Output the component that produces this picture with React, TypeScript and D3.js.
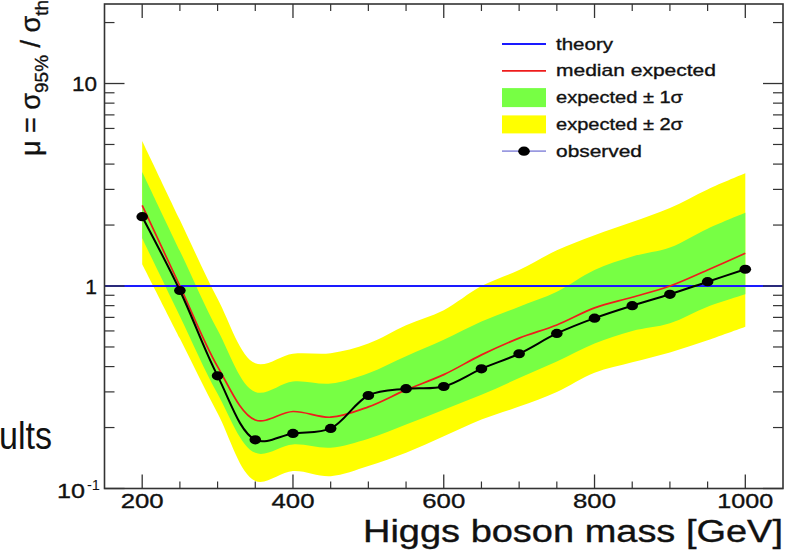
import React from 'react';
import * as d3 from 'd3';

// Higgs boson mass points (GeV)
const masses = [200, 250, 300, 350, 400, 450, 500, 550, 600, 650, 700, 750, 800, 850, 900, 950, 1000];
// Observed 95% CL limit on mu = sigma95 / sigma_th
const observed = [2.2, 0.95, 0.36, 0.174, 0.187, 0.198, 0.288, 0.311, 0.319, 0.39, 0.463, 0.583, 0.694, 0.8, 0.91, 1.05, 1.21];
// Median expected limit
const expectedMedian = [2.5, 1.0, 0.4, 0.218, 0.24, 0.225, 0.253, 0.307, 0.365, 0.457, 0.553, 0.642, 0.78, 0.88, 1.0, 1.2, 1.45];
// Expected ±1 sigma band
const expected1Low = [1.72, 0.71, 0.294, 0.15, 0.165, 0.159, 0.176, 0.207, 0.245, 0.29, 0.351, 0.424, 0.52, 0.6, 0.655, 0.79, 0.91];
const expected1High = [3.66, 1.49, 0.607, 0.3, 0.338, 0.33, 0.371, 0.45, 0.542, 0.667, 0.791, 0.937, 1.2, 1.4, 1.55, 1.92, 2.3];
// Expected ±2 sigma band
const expected2Low = [1.28, 0.55, 0.235, 0.109, 0.122, 0.115, 0.129, 0.15, 0.181, 0.219, 0.254, 0.3, 0.373, 0.42, 0.47, 0.54, 0.63];
const expected2High = [5.2, 2.12, 0.865, 0.415, 0.463, 0.466, 0.52, 0.64, 0.76, 1.0, 1.2, 1.5, 1.78, 2.07, 2.43, 3.0, 3.6];
// Theory reference
const theoryRatio = 1;

const xMajorTicks = [200, 400, 600, 800, 1000];
const yMajorTicks = [0.1, 1, 10];
const legendLabels = ['theory', 'median expected', 'expected \u00b1 1\u03c3', 'expected \u00b1 2\u03c3', 'observed'];

const FONT = '"Liberation Sans", Arial, Helvetica, sans-serif';
const TEXT = '#111';
const FRAME = '#333';

export default function App() {
  const W = 792;
  const H = 550;
  const left = 104.5;
  const right = 783;
  const top = 4;
  const bottom = 488.5;

  const x = d3.scaleLinear().domain([150, 1050]).range([left, right]);
  const y = d3.scaleLog().domain([0.1, 24.7]).range([bottom, top]);

  const rows = masses.map((m, i) => ({
    m,
    obs: observed[i],
    med: expectedMedian[i],
    l1: expected1Low[i],
    h1: expected1High[i],
    l2: expected2Low[i],
    h2: expected2High[i],
  }));

  const curve = d3.curveCatmullRom.alpha(0.5);
  const band2 = d3.area<any>().x(d => x(d.m)).y0(d => y(d.l2)).y1(d => y(d.h2)).curve(curve);
  const band1 = d3.area<any>().x(d => x(d.m)).y0(d => y(d.l1)).y1(d => y(d.h1)).curve(curve);
  const medLine = d3.line<any>().x(d => x(d.m)).y(d => y(d.med)).curve(curve);
  const obsLine = d3.line<any>().x(d => x(d.m)).y(d => y(d.obs)).curve(curve);

  const xMinorTicks = d3.range(200, 1001, 50).filter(v => !xMajorTicks.includes(v));
  const yMinorTicks: number[] = [];
  [0.1, 1, 10].forEach(dec => {
    for (let k = 2; k <= 9; k++) {
      const v = k * dec;
      if (v < 24.7) yMinorTicks.push(v);
    }
  });

  // legend geometry
  const lgX0 = 502;
  const lgX1 = 546;
  const lgTextX = 556;
  const lgRow0 = 44;
  const lgStep = 26.8;
  const lgWidths = [57, 160, 127, 127, 86];

  const bold = { stroke: TEXT, strokeWidth: 0.35 };

  return (
    <svg width={W} height={H} style={{ position: 'absolute', left: 0, top: 0, background: '#fff' }}
      fontFamily={FONT}>
      <rect x={0} y={0} width={W} height={H} fill="#fff" />

      {/* slide title fragment */}
      <text x={-1} y={449} fontSize={38} fill="#111" textLength={53} lengthAdjust="spacingAndGlyphs">ults</text>

      {/* expected bands */}
      <path d={band2(rows) || ''} fill="#ffff00" />
      <path d={band1(rows) || ''} fill="#77ff44" />

      {/* theory */}
      <line x1={left} x2={right} y1={y(theoryRatio)} y2={y(theoryRatio)} stroke="#1a1aff" strokeWidth={1.8} />

      {/* median expected */}
      <path d={medLine(rows) || ''} fill="none" stroke="#ee1c1c" strokeWidth={1.7} />

      {/* observed */}
      <path d={obsLine(rows) || ''} fill="none" stroke="#000" strokeWidth={2} />
      {rows.map(d => (
        <ellipse key={d.m} cx={x(d.m)} cy={y(d.obs)} rx={5.8} ry={4.6} fill="#000" />
      ))}

      {/* frame */}
      <rect x={left} y={top} width={right - left} height={bottom - top} fill="none" stroke={FRAME} strokeWidth={1.6} />

      {/* x ticks, bottom and top */}
      {xMajorTicks.map(v => (
        <g key={'xM' + v}>
          <line x1={x(v)} x2={x(v)} y1={bottom} y2={bottom - 14} stroke={FRAME} strokeWidth={1.3} />
          <line x1={x(v)} x2={x(v)} y1={top} y2={top + 14} stroke={FRAME} strokeWidth={1.3} />
          <text x={x(v)} y={508} fontSize={21} fill={TEXT} {...bold} textAnchor="middle"
            textLength={v >= 1000 ? 56 : 43} lengthAdjust="spacingAndGlyphs">{v}</text>
        </g>
      ))}
      {xMinorTicks.map(v => (
        <g key={'xm' + v}>
          <line x1={x(v)} x2={x(v)} y1={bottom} y2={bottom - 7} stroke={FRAME} strokeWidth={1.2} />
          <line x1={x(v)} x2={x(v)} y1={top} y2={top + 7} stroke={FRAME} strokeWidth={1.2} />
        </g>
      ))}

      {/* y ticks, left and right */}
      {yMajorTicks.map(v => (
        <g key={'yM' + v}>
          <line x1={left} x2={left + 20} y1={y(v)} y2={y(v)} stroke={FRAME} strokeWidth={1.3} />
          <line x1={right} x2={right - 20} y1={y(v)} y2={y(v)} stroke={FRAME} strokeWidth={1.3} />
        </g>
      ))}
      {yMinorTicks.map(v => (
        <g key={'ym' + v}>
          <line x1={left} x2={left + 10} y1={y(v)} y2={y(v)} stroke={FRAME} strokeWidth={1.2} />
          <line x1={right} x2={right - 10} y1={y(v)} y2={y(v)} stroke={FRAME} strokeWidth={1.2} />
        </g>
      ))}
      {yMajorTicks.map(v => {
        const yy = y(v);
        if (v >= 10) {
          return <text key={'yl' + v} x={97} y={yy + 7.5} fontSize={21} fill={TEXT} {...bold} textAnchor="end"
            textLength={25} lengthAdjust="spacingAndGlyphs">{String(v)}</text>;
        }
        if (v >= 1) {
          return <text key={'yl' + v} x={97} y={yy + 7.5} fontSize={21} fill={TEXT} {...bold} textAnchor="end">{String(v)}</text>;
        }
        const exp = Math.round(Math.log10(v));
        return (
          <g key={'yl' + v}>
            <text x={85} y={yy + 9.5} fontSize={21} fill={TEXT} {...bold} textAnchor="end"
              textLength={28} lengthAdjust="spacingAndGlyphs">10</text>
            <text x={87} y={yy + 1.5} fontSize={14} fill={TEXT} textAnchor="start"
              textLength={13} lengthAdjust="spacingAndGlyphs">{String(exp)}</text>
          </g>
        );
      })}

      {/* axis titles */}
      <text x={783} y={542} fontSize={31} fill={TEXT} {...bold} textAnchor="end"
        textLength={420} lengthAdjust="spacingAndGlyphs">Higgs boson mass [GeV]</text>
      <text transform="translate(40,156) rotate(-90)" fontSize={27} fill={TEXT} {...bold}>
        <tspan>{'\u03bc = \u03c3'}</tspan>
        <tspan fontSize={19} dy={8}>95%</tspan>
        <tspan dy={-8}>{' / \u03c3'}</tspan>
        <tspan fontSize={19} dy={8}>th</tspan>
      </text>

      {/* legend */}
      <g>
        <line x1={lgX0} x2={lgX1} y1={lgRow0} y2={lgRow0} stroke="#1a1aff" strokeWidth={1.8} />
        <line x1={lgX0} x2={lgX1} y1={lgRow0 + lgStep} y2={lgRow0 + lgStep} stroke="#ee1c1c" strokeWidth={1.7} />
        <rect x={lgX0} y={lgRow0 + 2 * lgStep - 9.5} width={lgX1 - lgX0} height={19} fill="#77ff44" />
        <rect x={lgX0} y={lgRow0 + 3 * lgStep - 9} width={lgX1 - lgX0} height={18} fill="#ffff00" />
        <line x1={lgX0} x2={lgX1} y1={lgRow0 + 4 * lgStep} y2={lgRow0 + 4 * lgStep} stroke="#9a9ae0" strokeWidth={1.8} />
        <ellipse cx={(lgX0 + lgX1) / 2} cy={lgRow0 + 4 * lgStep} rx={5.8} ry={4.6} fill="#000" />
        {legendLabels.map((lab, i) => (
          <text key={lab} x={lgTextX} y={lgRow0 + i * lgStep + 5.5} fontSize={17} fill={TEXT} {...bold}
            textLength={lgWidths[i]} lengthAdjust="spacingAndGlyphs">{lab}</text>
        ))}
      </g>
    </svg>
  );
}
